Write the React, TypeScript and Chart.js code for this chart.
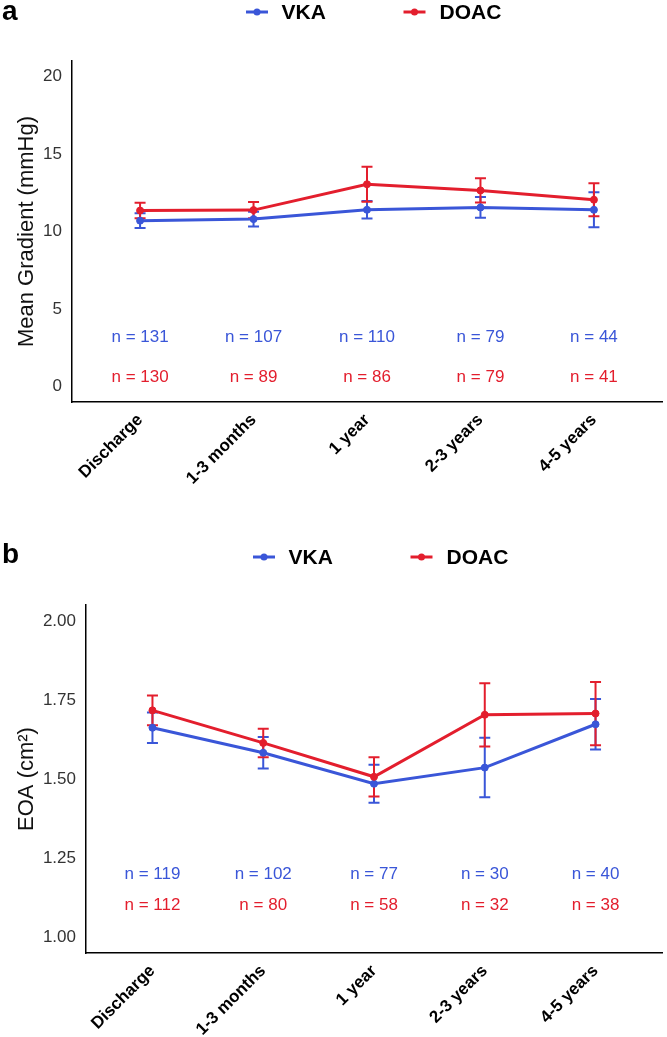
import React, { useEffect, useRef } from "react";
import { Chart, registerables } from "chart.js";

Chart.register(...registerables);

// ---------- data ----------
const categories = ["Discharge", "1-3 months", "1 year", "2-3 years", "4-5 years"];
const seriesNames = ["VKA", "DOAC"];

// Panel a: mean gradient (mmHg)
const gradientVKA = [10.7, 10.8, 11.4, 11.55, 11.4];
const gradientVKAErr = [0.47, 0.48, 0.56, 0.67, 1.13];
const gradientDOAC = [11.35, 11.38, 13.05, 12.65, 12.05];
const gradientDOACErr = [0.5, 0.52, 1.13, 0.78, 1.06];
const gradientNVKA = [131, 107, 110, 79, 44];
const gradientNDOAC = [130, 89, 86, 79, 41];
const gradientTicks = [0, 5, 10, 15, 20];

// Panel b: EOA (cm²)
const eoaVKA = [1.662, 1.583, 1.485, 1.536, 1.673];
const eoaVKAErr = [0.048, 0.05, 0.06, 0.094, 0.08];
const eoaDOAC = [1.717, 1.614, 1.507, 1.703, 1.707];
const eoaDOACErr = [0.047, 0.045, 0.062, 0.1, 0.1];
const eoaNVKA = [119, 102, 77, 30, 40];
const eoaNDOAC = [112, 80, 58, 32, 38];
const eoaTicks = [1.0, 1.25, 1.5, 1.75, 2.0];

// ---------- styles ----------
const BLUE = "#3a56d8";
const RED = "#e31e2d";
const FONT = "'Liberation Sans', Arial, Helvetica, sans-serif";

const extrasPlugin = {
  id: "extras",
  beforeDatasetsDraw(chart: any, _args: any, opts: any) {
    const ctx = chart.ctx;
    const xs = chart.scales.x;
    const ys = chart.scales.y;
    const cap = 5.5;
    chart.data.datasets.forEach((ds: any, di: number) => {
      const errs = opts.errors[di];
      ctx.save();
      ctx.strokeStyle = ds.borderColor;
      ctx.lineWidth = 2;
      ds.data.forEach((pt: any, i: number) => {
        const px = xs.getPixelForValue(pt.x);
        const top = ys.getPixelForValue(pt.y + errs[i]);
        const bot = ys.getPixelForValue(pt.y - errs[i]);
        ctx.beginPath();
        ctx.moveTo(px, top);
        ctx.lineTo(px, bot);
        ctx.moveTo(px - cap, top);
        ctx.lineTo(px + cap, top);
        ctx.moveTo(px - cap, bot);
        ctx.lineTo(px + cap, bot);
        ctx.stroke();
      });
      ctx.restore();
    });
  },
  afterDatasetsDraw(chart: any, _args: any, opts: any) {
    const ctx = chart.ctx;
    const xs = chart.scales.x;
    const ys = chart.scales.y;
    ctx.save();
    ctx.font = `17px ${FONT}`;
    ctx.textAlign = "center";
    ctx.textBaseline = "middle";
    opts.counts.forEach((row: number[], di: number) => {
      ctx.fillStyle = opts.colors[di];
      row.forEach((n, i) => {
        ctx.fillText(`n = ${n}`, xs.getPixelForValue(i + 1), ys.getPixelForValue(opts.countY[di]));
      });
    });
    ctx.restore();
  },
  afterDraw(chart: any, _args: any, opts: any) {
    const ctx = chart.ctx;
    const area = chart.chartArea;
    const cx = (area.left + area.right) / 2;
    ctx.save();
    // panel letter
    ctx.fillStyle = "#000";
    ctx.font = `bold 28px ${FONT}`;
    ctx.textAlign = "left";
    ctx.textBaseline = "alphabetic";
    ctx.fillText(opts.letter, 2, opts.letterBaseline);
    // legend
    const markerOffsets = [-110, 47.5];
    const textOffsets = [-85.5, 72.5];
    ctx.font = `bold 21px ${FONT}`;
    ctx.textBaseline = "middle";
    seriesNames.forEach((name, i) => {
      const color = opts.colors[i];
      const mx = cx + markerOffsets[i];
      const my = opts.legendY;
      ctx.strokeStyle = color;
      ctx.lineWidth = 3;
      ctx.beginPath();
      ctx.moveTo(mx - 11, my);
      ctx.lineTo(mx + 11, my);
      ctx.stroke();
      ctx.fillStyle = color;
      ctx.beginPath();
      ctx.arc(mx, my, 3.5, 0, Math.PI * 2);
      ctx.fill();
      ctx.fillStyle = "#000";
      ctx.fillText(name, cx + textOffsets[i], my + 1);
    });
    ctx.restore();
  },
};

type PanelSpec = {
  vka: number[];
  vkaErr: number[];
  doac: number[];
  doacErr: number[];
  nVka: number[];
  nDoac: number[];
  ticks: number[];
  min: number;
  max: number;
  decimals: number;
  yTitle: string;
  countY: number[];
  letter: string;
  letterBaseline: number;
  legendY: number;
  areaTop: number;
  yWidth: number;
  xHeight: number;
  padRight: number;
};

function makeConfig(p: PanelSpec): any {
  const toPts = (arr: number[]) => arr.map((v, i) => ({ x: i + 1, y: v }));
  const ds = (label: string, data: number[], color: string, order: number) => ({
    label,
    data: toPts(data),
    borderColor: color,
    backgroundColor: color,
    borderWidth: 3,
    pointRadius: 3.5,
    pointBorderWidth: 1,
    pointBorderColor: color,
    pointBackgroundColor: color,
    tension: 0,
    order,
  });
  return {
    type: "line",
    data: {
      datasets: [ds(seriesNames[0], p.vka, BLUE, 2), ds(seriesNames[1], p.doac, RED, 1)],
    },
    options: {
      responsive: false,
      animation: false,
      events: [],
      layout: { padding: { top: p.areaTop, right: p.padRight, left: 0, bottom: 0 } },
      plugins: {
        legend: { display: false },
        tooltip: { enabled: false },
        extras: {
          errors: [p.vkaErr, p.doacErr],
          counts: [p.nVka, p.nDoac],
          countY: p.countY,
          colors: [BLUE, RED],
          letter: p.letter,
          letterBaseline: p.letterBaseline,
          legendY: p.legendY,
        },
      },
      scales: {
        x: {
          type: "linear",
          min: 0.4,
          max: 5.6,
          afterBuildTicks: (s: any) => {
            s.ticks = categories.map((_, i) => ({ value: i + 1 }));
          },
          afterFit: (s: any) => {
            s.height = p.xHeight;
          },
          grid: { display: false, drawTicks: false },
          border: { display: true, color: "#000", width: 1.5 },
          ticks: {
            autoSkip: false,
            minRotation: 45,
            maxRotation: 45,
            padding: 8,
            color: "#000",
            font: { family: FONT, size: 17, weight: "bold" },
            callback: (v: any) => categories[Math.round(Number(v)) - 1] ?? "",
          },
        },
        y: {
          type: "linear",
          min: p.min,
          max: p.max,
          afterBuildTicks: (s: any) => {
            s.ticks = p.ticks.map((v) => ({ value: v }));
          },
          afterFit: (s: any) => {
            s.width = p.yWidth;
          },
          grid: { display: false, drawTicks: false },
          border: { display: true, color: "#000", width: 1.5 },
          ticks: {
            padding: 10,
            color: "#333",
            font: { family: FONT, size: 17 },
            callback: (v: any) => Number(v).toFixed(p.decimals),
          },
          title: {
            display: true,
            text: p.yTitle,
            color: "#111",
            font: { family: FONT, size: 22 },
            padding: { top: 14, bottom: 0 },
          },
        },
      },
    },
    plugins: [extrasPlugin],
  };
}

const panelA: PanelSpec = {
  vka: gradientVKA,
  vkaErr: gradientVKAErr,
  doac: gradientDOAC,
  doacErr: gradientDOACErr,
  nVka: gradientNVKA,
  nDoac: gradientNDOAC,
  ticks: gradientTicks,
  min: -1,
  max: 21,
  decimals: 0,
  yTitle: "Mean Gradient (mmHg)",
  countY: [3.15, 0.6],
  letter: "a",
  letterBaseline: 20,
  legendY: 12,
  areaTop: 61,
  yWidth: 72,
  xHeight: 118,
  padRight: 2,
};

const panelB: PanelSpec = {
  vka: eoaVKA,
  vkaErr: eoaVKAErr,
  doac: eoaDOAC,
  doacErr: eoaDOACErr,
  nVka: eoaNVKA,
  nDoac: eoaNDOAC,
  ticks: eoaTicks,
  min: 0.95,
  max: 2.05,
  decimals: 2,
  yTitle: "EOA (cm²)",
  countY: [1.2, 1.1],
  letter: "b",
  letterBaseline: 43,
  legendY: 37,
  areaTop: 85,
  yWidth: 86,
  xHeight: 84,
  padRight: 2,
};

function Panel({ spec, top, height }: { spec: PanelSpec; top: number; height: number }) {
  const ref = useRef<HTMLCanvasElement>(null);
  useEffect(() => {
    if (!ref.current) return;
    const chart = new Chart(ref.current, makeConfig(spec));
    return () => chart.destroy();
  }, [spec]);
  return (
    <div style={{ position: "absolute", left: 0, top, width: 667, height }}>
      <canvas ref={ref} width={667} height={height} style={{ display: "block", width: 667, height }} />
    </div>
  );
}

export default function App() {
  return (
    <div style={{ position: "absolute", left: 0, top: 0, width: 667, height: 1037, background: "#fff", overflow: "hidden" }}>
      <Panel spec={panelA} top={0} height={520} />
      <Panel spec={panelB} top={520} height={517} />
    </div>
  );
}
